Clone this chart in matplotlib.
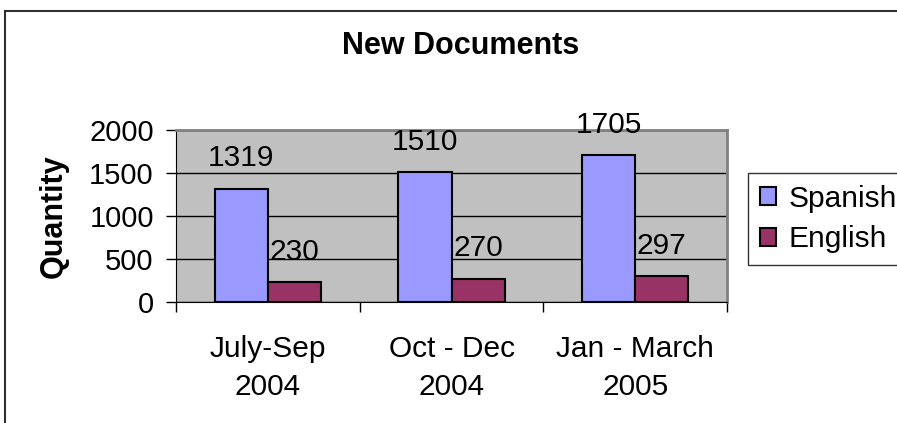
import numpy as np
import matplotlib.pyplot as plt
from matplotlib.lines import Line2D

periods = ['July-Sep\n2004', 'Oct - Dec\n2004', 'Jan - March\n2005']
spanish = [1319, 1510, 1705]
english = [230, 270, 297]

plt.rcParams['font.family'] = ['Liberation Sans', 'DejaVu Sans']

fig = plt.figure(figsize=(8.97, 4.23), dpi=100)
ax = fig.add_axes([176/897, 1-302/423, (727-176)/897, (302-130)/423])
ax.set_facecolor('#C0C0C0')

x = np.arange(len(periods))
w = 0.29
b1 = ax.bar(x - w/2, spanish, w, color='#9999FF', edgecolor='black', linewidth=1.5, label='Spanish', zorder=3)
b2 = ax.bar(x + w/2, english, w, color='#993366', edgecolor='black', linewidth=1.5, label='English', zorder=3)

for bars in (b1, b2):
    for r in bars:
        ax.annotate(str(int(r.get_height())), (r.get_x() + r.get_width()/2, r.get_height()),
                    xytext=(0, 22), textcoords='offset points', ha='center', va='center', fontsize=21.5)

ax.set_xlim(-0.5, 2.5)
ax.set_ylim(0, 2000)
ax.set_yticks([0, 500, 1000, 1500, 2000])
ax.yaxis.grid(True, color='black', linewidth=1, zorder=1)
ax.set_axisbelow(True)

ax.set_xticks([-0.5, 0.5, 1.5, 2.5])
ax.set_xticklabels([])
ax.set_xticks(x, minor=True)
ax.set_xticklabels(periods, minor=True, fontsize=21.5, linespacing=1.45)
ax.tick_params(axis='x', which='major', length=7, width=1, direction='out')
ax.tick_params(axis='x', which='minor', length=0, pad=24)
ax.tick_params(axis='y', length=7, width=1, direction='out', labelsize=21, pad=9)

for s in ['top', 'right']:
    ax.spines[s].set_color('#808080')
    ax.spines[s].set_linewidth(2)
for s in ['left', 'bottom']:
    ax.spines[s].set_color('black')

ax.set_ylabel('Quantity', fontsize=22, fontweight='bold', labelpad=15)
fig.text(461/897, 1-46/423, 'New Documents', ha='center', va='center', fontsize=22, fontweight='bold')

leg = fig.legend(handles=[b1, b2], loc='upper left', bbox_to_anchor=(748/897, 1-173/423),
                 fontsize=21.5, frameon=True, fancybox=False, handlelength=0.55, handleheight=0.55,
                 handletextpad=0.4, borderpad=0.4, labelspacing=0.42, borderaxespad=0)
leg.get_frame().set_edgecolor('black')
leg.get_frame().set_linewidth(1)

# outer chart border (top and left edges visible only)
fig.add_artist(Line2D([5/897, 1.0], [1-11/423, 1-11/423], transform=fig.transFigure, color='#303030', linewidth=1.5))
fig.add_artist(Line2D([5/897, 5/897], [0, 1-11/423], transform=fig.transFigure, color='#303030', linewidth=1.5))

fig.savefig('out.png', dpi=100)
